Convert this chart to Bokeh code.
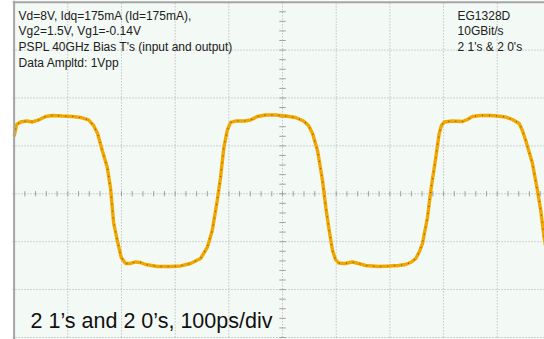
from bokeh.plotting import figure
from bokeh.models import Range1d, Label, Span
from bokeh.embed import file_html
from bokeh.resources import INLINE
import numpy as np

# Waveform: time in ps (100 ps/div), level in divisions (0 = centre)
time_ps = [0, 4.7, 12.1, 23.3, 34.5, 45.6, 58.7, 71.7, 90.3, 108.9, 123.8, 138.7, 148.0, 155.5,
           164.2, 173.6, 179.7, 185.3, 192.2, 199.6, 207.6, 217.0, 226.3, 235.6, 244.9, 267.2,
           291.4, 310.1, 328.7, 347.3, 359.8, 369.1, 378.4, 384.5, 390.7, 397.0, 403.2, 414.3,
           429.2, 440.4, 453.4, 468.3, 487.0, 505.6, 524.2, 539.1, 548.4, 555.9, 565.2, 574.5,
           580.6, 587.0, 593.1, 598.7, 604.3, 615.5, 630.4, 641.5, 654.6, 678.8, 699.3, 716.0,
           729.1, 740.2, 748.2, 755.1, 760.7, 770.0, 776.2, 785.5, 791.8, 796.1, 801.7, 816.6,
           835.2, 844.5, 853.8, 868.7, 885.5, 900.4, 915.3, 928.3, 940.8, 946.9, 953.1, 965.6,
           974.9, 981.0, 987.3, 995.3]
level_div = [1.196, 1.447, 1.499, 1.520, 1.499, 1.541, 1.614, 1.635, 1.624, 1.614, 1.593, 1.541,
             1.426, 1.259, 0.904, 0.549, 0.111, -0.599, -0.975, -1.330, -1.455, -1.455, -1.424,
             -1.434, -1.476, -1.518, -1.518, -1.507, -1.455, -1.351, -1.121, -0.766, -0.140,
             0.340, 0.967, 1.322, 1.489, 1.520, 1.520, 1.541, 1.614, 1.645, 1.645, 1.624, 1.593,
             1.520, 1.426, 1.259, 0.904, 0.278, -0.286, -0.766, -1.184, -1.372, -1.445, -1.455,
             -1.424, -1.455, -1.497, -1.518, -1.507, -1.497, -1.476, -1.424, -1.351, -1.205,
             -1.038, -0.495, 0.069, 0.758, 1.259, 1.426, 1.499, 1.520, 1.509, 1.551, 1.614,
             1.635, 1.635, 1.624, 1.603, 1.551, 1.468, 1.322, 1.113, 0.633, 0.069, -0.349,
             -0.912, -1.434]

notes_left = ["Vd=8V, Idq=175mA (Id=175mA),", "Vg2=1.5V, Vg1=-0.14V",
              "PSPL 40GHz Bias T's (input and output)", "Data Ampltd: 1Vpp"]
notes_right = ["EG1328D", "10GBit/s", "2 1's & 2 0's"]
caption = "2 1\u2019s and 2 0\u2019s, 100ps/div"

FONT = "Liberation Sans"
GRID = "#ababab"

p = figure(width=544, height=339, output_backend="svg", toolbar_location=None,
           x_axis_type=None, y_axis_type=None,
           x_range=Range1d(-3, 988), y_range=Range1d(-3.042, 4.035),
           min_border_left=12, min_border_right=0, min_border_top=0, min_border_bottom=0)
p.background_fill_color = "#F3F9F5"
p.border_fill_color = "white"
p.outline_line_color = None

# graticule
gx = np.arange(100, 1000, 100)
p.segment(x0=gx, y0=-4, x1=gx, y1=4, line_color=GRID, line_width=1, line_dash="1 2")
gy = np.arange(-3, 4, 1)
p.segment(x0=-3, y0=gy, x1=1000, y1=gy, line_color=GRID, line_width=1, line_dash="1 2")

# centre-line minor ticks
tx = np.arange(0, 1000, 20)
p.segment(x0=tx, y0=-0.055, x1=tx, y1=0.055, line_color="#a0a0a0", line_width=1)
ty = np.arange(-3, 4.01, 0.2)
p.segment(x0=494, y0=ty, x1=506, y1=ty, line_color="#a0a0a0", line_width=1)

# frame edges (left / top)
p.add_layout(Span(location=0, dimension="height", line_color="#a6a6a6", line_width=2))
p.add_layout(Span(location=4, dimension="width", line_color="#a6a6a6", line_width=2))

# trace
p.line(time_ps, level_div, line_color="#F2A700", line_width=3.4)
p.line(time_ps, level_div, line_color="#5a4812", line_width=1.3, line_dash="1 6", line_alpha=0.75)

for i, t in enumerate(notes_left):
    p.add_layout(Label(x=8.4, y=3.72 - 0.33 * i, text=t, text_font=FONT, text_font_size="12px",
                       text_color="#202020", text_baseline="middle", text_align="left"))
for i, t in enumerate(notes_right):
    p.add_layout(Label(x=826, y=3.72 - 0.33 * i, text=t, text_font=FONT, text_font_size="12px",
                       text_color="#202020", text_baseline="middle", text_align="left"))
p.add_layout(Label(x=30.7, y=-2.66, text=caption, text_font=FONT, text_font_size="21.5px",
                   text_color="#111111", text_baseline="middle", text_align="left"))

open("out.html", "w").write(file_html(p, INLINE))
